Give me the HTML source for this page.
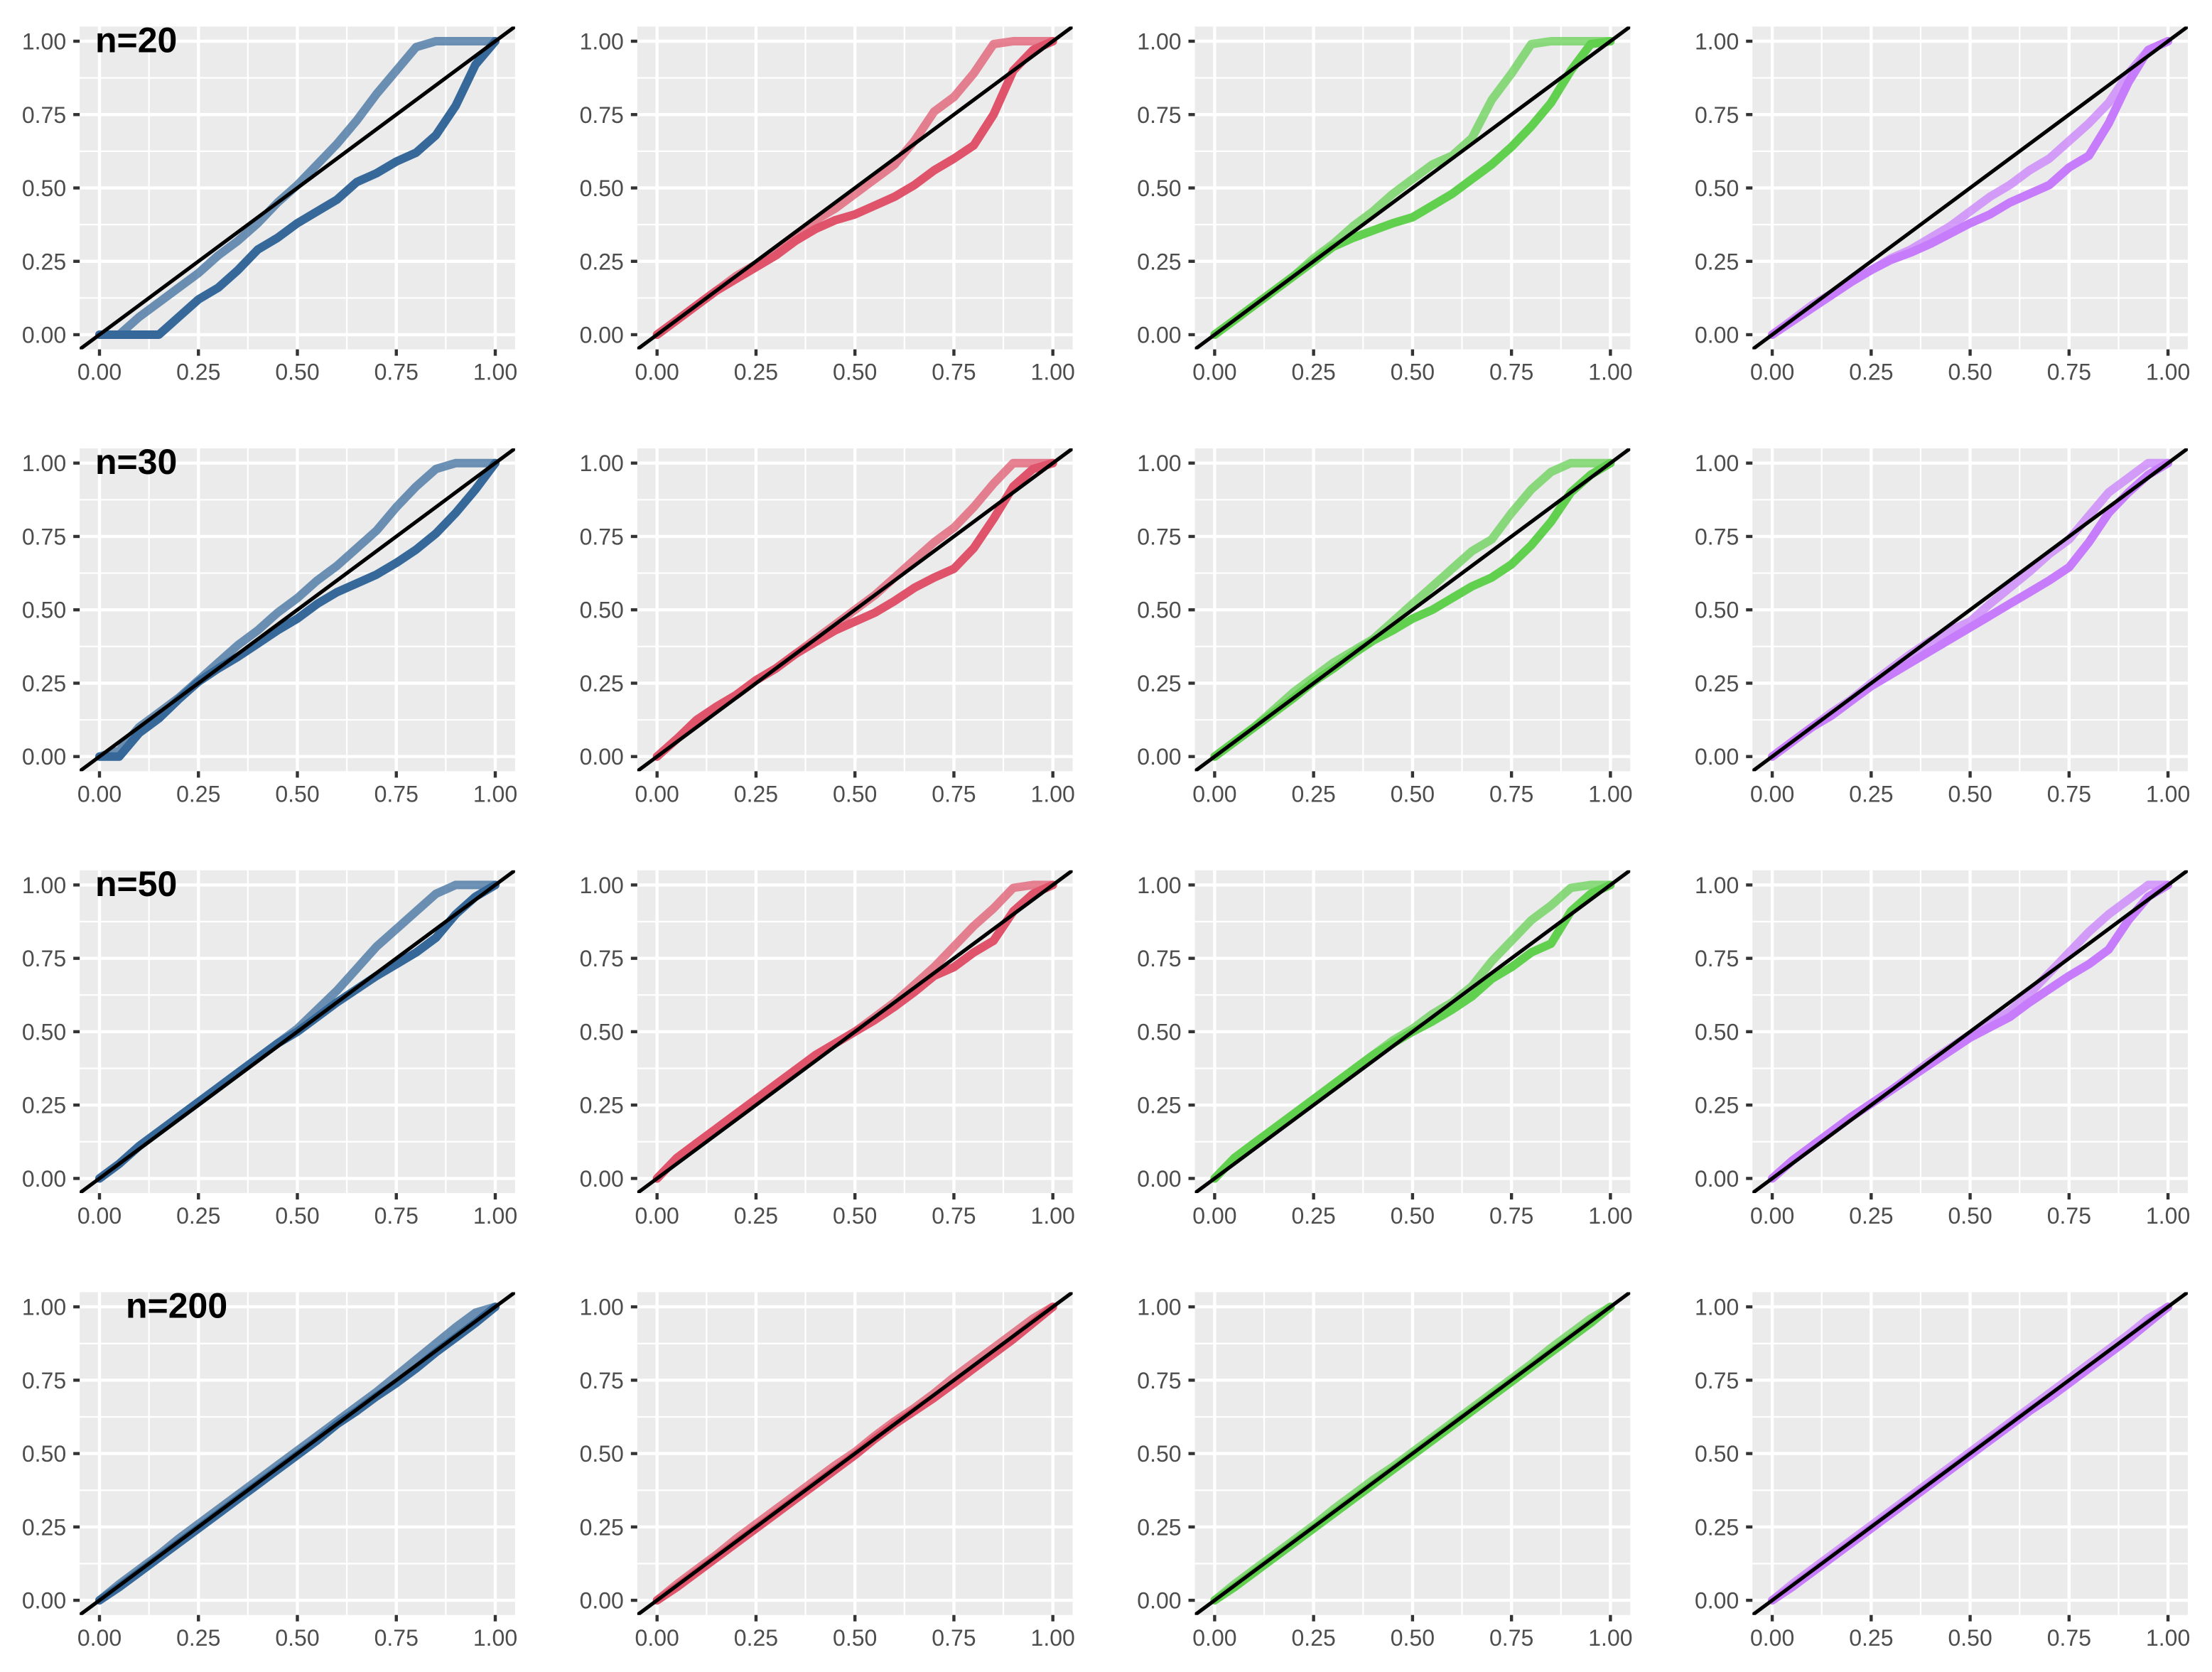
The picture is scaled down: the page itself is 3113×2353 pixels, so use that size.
<!DOCTYPE html>
<html><head><meta charset="utf-8"><style>
html,body{margin:0;padding:0;background:#fff}
svg{display:block}
text{font-family:"Liberation Sans",sans-serif}
</style></head><body>
<svg id="chart" xmlns="http://www.w3.org/2000/svg" width="3113" height="2353" viewBox="0 0 3113 2353">
<rect width="3113" height="2353" fill="#fff"/>
</svg>
<script>
const xGrid = [0,0.05,0.1,0.15,0.2,0.25,0.3,0.35,0.4,0.45,0.5,0.55,0.6,0.65,0.7,0.75,0.8,0.85,0.9,0.95,1];
const rowLabels = ["n=20","n=30","n=50","n=200"];
const tickValues = [0,0.25,0.5,0.75,1];
const tickLabels = ["0.00","0.25","0.50","0.75","1.00"];
const colColors = ["#36699a","#df536b","#61d04f","#c77cfb"];
const light_r1c1 = [0,0,0.06,0.11,0.16,0.21,0.27,0.32,0.38,0.45,0.51,0.58,0.65,0.73,0.82,0.9,0.98,1,1,1,1];
const dark_r1c1  = [0,0,0,0,0.06,0.12,0.16,0.22,0.29,0.33,0.38,0.42,0.46,0.52,0.55,0.59,0.62,0.68,0.78,0.92,1];
const light_r1c2 = [0,0.05,0.1,0.15,0.2,0.24,0.29,0.34,0.39,0.43,0.48,0.53,0.58,0.66,0.76,0.81,0.89,0.99,1,1,1];
const dark_r1c2  = [0,0.05,0.1,0.15,0.19,0.23,0.27,0.32,0.36,0.39,0.41,0.44,0.47,0.51,0.56,0.6,0.645,0.75,0.9,0.97,1];
const light_r1c3 = [0,0.05,0.1,0.15,0.2,0.26,0.31,0.37,0.42,0.48,0.53,0.58,0.61,0.67,0.8,0.89,0.99,1,1,1,1];
const dark_r1c3  = [0,0.05,0.1,0.15,0.2,0.25,0.3,0.33,0.355,0.38,0.4,0.44,0.48,0.53,0.58,0.64,0.71,0.79,0.9,0.99,1];
const light_r1c4 = [0,0.05,0.1,0.14,0.185,0.22,0.26,0.29,0.33,0.37,0.42,0.47,0.51,0.56,0.6,0.66,0.72,0.79,0.89,0.97,1];
const dark_r1c4  = [0,0.045,0.09,0.135,0.18,0.22,0.255,0.28,0.31,0.345,0.38,0.41,0.45,0.48,0.51,0.57,0.61,0.72,0.86,0.97,1];
const light_r2c1 = [0,0.02,0.1,0.15,0.2,0.26,0.32,0.38,0.43,0.49,0.54,0.6,0.65,0.71,0.77,0.85,0.92,0.98,1,1,1];
const dark_r2c1  = [0,0,0.08,0.13,0.195,0.255,0.3,0.34,0.385,0.43,0.47,0.52,0.56,0.59,0.62,0.66,0.705,0.76,0.83,0.91,1];
const light_r2c2 = [0,0.06,0.12,0.17,0.21,0.26,0.3,0.35,0.4,0.45,0.5,0.55,0.61,0.67,0.73,0.78,0.85,0.93,1,1,1];
const dark_r2c2  = [0,0.06,0.125,0.17,0.21,0.26,0.3,0.35,0.39,0.43,0.46,0.49,0.53,0.575,0.61,0.64,0.71,0.81,0.92,0.98,1];
const light_r2c3 = [0,0.05,0.1,0.16,0.22,0.27,0.32,0.36,0.4,0.46,0.52,0.58,0.64,0.7,0.74,0.83,0.91,0.97,1,1,1];
const dark_r2c3  = [0,0.05,0.1,0.15,0.2,0.255,0.3,0.35,0.395,0.43,0.47,0.5,0.54,0.58,0.61,0.655,0.72,0.8,0.9,0.96,1];
const light_r2c4 = [0,0.05,0.1,0.15,0.195,0.25,0.3,0.35,0.395,0.43,0.46,0.52,0.575,0.63,0.69,0.74,0.82,0.9,0.95,1,1];
const dark_r2c4  = [0,0.05,0.1,0.14,0.19,0.24,0.28,0.32,0.36,0.4,0.44,0.48,0.52,0.56,0.6,0.645,0.73,0.83,0.9,0.96,1];
const light_r3c1 = [0,0.05,0.11,0.16,0.21,0.26,0.31,0.36,0.41,0.46,0.51,0.575,0.64,0.715,0.79,0.85,0.91,0.97,1,1,1];
const dark_r3c1  = [0,0.05,0.11,0.16,0.21,0.26,0.31,0.36,0.41,0.46,0.5,0.55,0.6,0.645,0.69,0.73,0.77,0.82,0.9,0.96,1];
const light_r3c2 = [0,0.07,0.12,0.17,0.22,0.27,0.32,0.37,0.42,0.46,0.5,0.55,0.6,0.66,0.72,0.79,0.86,0.92,0.99,1,1];
const dark_r3c2  = [0,0.07,0.12,0.17,0.22,0.27,0.32,0.37,0.42,0.46,0.5,0.54,0.585,0.635,0.69,0.72,0.77,0.81,0.91,0.97,1];
const light_r3c3 = [0,0.07,0.12,0.17,0.22,0.27,0.32,0.37,0.42,0.47,0.51,0.56,0.6,0.655,0.74,0.81,0.88,0.93,0.99,1,1];
const dark_r3c3  = [0,0.07,0.12,0.17,0.22,0.27,0.32,0.37,0.42,0.46,0.5,0.535,0.575,0.62,0.68,0.72,0.77,0.8,0.91,0.97,1];
const light_r3c4 = [0,0.06,0.11,0.16,0.21,0.255,0.3,0.35,0.4,0.445,0.49,0.53,0.57,0.63,0.7,0.77,0.84,0.9,0.95,1,1];
const dark_r3c4  = [0,0.06,0.11,0.16,0.21,0.255,0.3,0.345,0.39,0.435,0.48,0.515,0.55,0.6,0.645,0.69,0.73,0.78,0.88,0.96,1];
const light_r4c1 = [0,0.055,0.105,0.155,0.21,0.26,0.31,0.36,0.41,0.46,0.51,0.56,0.61,0.66,0.71,0.765,0.82,0.875,0.93,0.98,1];
const dark_r4c1  = [0,0.045,0.095,0.145,0.195,0.245,0.295,0.345,0.395,0.445,0.495,0.545,0.6,0.645,0.695,0.74,0.79,0.845,0.895,0.945,1];
const light_r4c2 = [0,0.055,0.105,0.155,0.21,0.26,0.31,0.36,0.41,0.46,0.505,0.56,0.61,0.655,0.705,0.76,0.81,0.86,0.91,0.96,1];
const dark_r4c2  = [0,0.045,0.095,0.145,0.195,0.245,0.295,0.345,0.395,0.445,0.495,0.55,0.6,0.645,0.69,0.74,0.79,0.84,0.89,0.945,1];
const light_r4c3 = [0,0.055,0.105,0.155,0.205,0.255,0.31,0.36,0.41,0.455,0.505,0.555,0.605,0.655,0.705,0.755,0.805,0.86,0.91,0.96,1];
const dark_r4c3  = [0,0.045,0.095,0.145,0.195,0.245,0.295,0.345,0.395,0.445,0.495,0.545,0.595,0.645,0.695,0.745,0.795,0.845,0.895,0.945,1];
const light_r4c4 = [0,0.055,0.105,0.155,0.205,0.255,0.305,0.355,0.405,0.455,0.505,0.555,0.605,0.655,0.705,0.755,0.805,0.855,0.905,0.96,1];
const dark_r4c4  = [0,0.045,0.095,0.145,0.195,0.245,0.295,0.345,0.395,0.445,0.495,0.545,0.595,0.645,0.69,0.74,0.79,0.84,0.89,0.945,1];

const lightSeries = [[light_r1c1,light_r1c2,light_r1c3,light_r1c4],[light_r2c1,light_r2c2,light_r2c3,light_r2c4],[light_r3c1,light_r3c2,light_r3c3,light_r3c4],[light_r4c1,light_r4c2,light_r4c3,light_r4c4]];
const darkSeries = [[dark_r1c1,dark_r1c2,dark_r1c3,dark_r1c4],[dark_r2c1,dark_r2c2,dark_r2c3,dark_r2c4],[dark_r3c1,dark_r3c2,dark_r3c3,dark_r3c4],[dark_r4c1,dark_r4c2,dark_r4c3,dark_r4c4]];

const NS = "http://www.w3.org/2000/svg";
const svg = document.getElementById("chart");
function mk(tag, attrs, parent){const e=document.createElementNS(NS,tag);for(const k in attrs)e.setAttribute(k,attrs[k]);(parent||svg).appendChild(e);return e;}

const X0 = 140, COLSTEP = 784.7, XSPAN = 557;
const Y0 = 471, ROWSTEP = 593.7, YSPAN = 413;

for (let r=0;r<4;r++){
  for (let c=0;c<4;c++){
    const ox = X0 + c*COLSTEP, oy = Y0 + r*ROWSTEP;
    const sx = v => ox + v*XSPAN;
    const sy = v => oy - v*YSPAN;
    const g = mk("g",{});
    
    
    const L = sx(-0.05), R = sx(1.05), T = sy(1.05), B = sy(-0.05);
    const clipId = "clip"+r+"_"+c;
    const cp = mk("clipPath",{id:clipId},g);
    mk("rect",{x:L,y:T,width:R-L,height:B-T},cp);
    const bg = mk("rect",{x:L,y:T,width:R-L,height:B-T,fill:"#ebebeb"},g);
    
    
    for (let i=0;i<4;i++){
      const m = 0.125 + i*0.25;
      mk("line",{x1:sx(m),x2:sx(m),y1:T,y2:B,stroke:"#fff","stroke-width":2.2},g);
      mk("line",{x1:L,x2:R,y1:sy(m),y2:sy(m),stroke:"#fff","stroke-width":2.2},g);
    }
    tickValues.forEach((v,i)=>{
      mk("line",{x1:sx(v),x2:sx(v),y1:T,y2:B,stroke:"#fff","stroke-width":4.4},g);
      mk("line",{x1:L,x2:R,y1:sy(v),y2:sy(v),stroke:"#fff","stroke-width":4.4},g);
      mk("line",{x1:L-9,x2:L,y1:sy(v),y2:sy(v),stroke:"#333","stroke-width":4.4},g);
      mk("line",{x1:sx(v),x2:sx(v),y1:B,y2:B+9,stroke:"#333","stroke-width":4.4},g);
      const yl = mk("text",{x:L-19,y:sy(v)+11.5,"font-size":32,fill:"#4d4d4d","text-anchor":"end"},g);
      yl.textContent = tickLabels[i];
      
      
      const xl = mk("text",{x:sx(v),y:B+43,"font-size":32,fill:"#4d4d4d","text-anchor":"middle"},g);
      xl.textContent = tickLabels[i];
      
      
    });
    const cg = mk("g",{"clip-path":"url(#"+clipId+")"},g);
    const lp = xGrid.map((x,i)=>sx(x).toFixed(1)+","+sy(lightSeries[r][c][i]).toFixed(1)).join(" ");
    const dp = xGrid.map((x,i)=>sx(x).toFixed(1)+","+sy(darkSeries[r][c][i]).toFixed(1)).join(" ");
    const l1 = mk("polyline",{points:lp,fill:"none",stroke:colColors[c],"stroke-opacity":0.72,"stroke-width":12,"stroke-linejoin":"round","stroke-linecap":"round"},cg);
    
    
    const l2 = mk("polyline",{points:dp,fill:"none",stroke:colColors[c],"stroke-width":12,"stroke-linejoin":"round","stroke-linecap":"round"},cg);
    
    
    const ab = mk("line",{x1:sx(-0.05),y1:sy(-0.05),x2:sx(1.05),y2:sy(1.05),stroke:"#000","stroke-width":5.2},cg);
    
    
    if (c===0){
      const t = mk("text",{x: r===3 ? 177 : 134, y: sy(1)+15.5,"font-size":50,"font-weight":"bold",fill:"#000"},g);
      t.textContent = rowLabels[r];
      
      
    }
  }
}
</script>
</body></html>
